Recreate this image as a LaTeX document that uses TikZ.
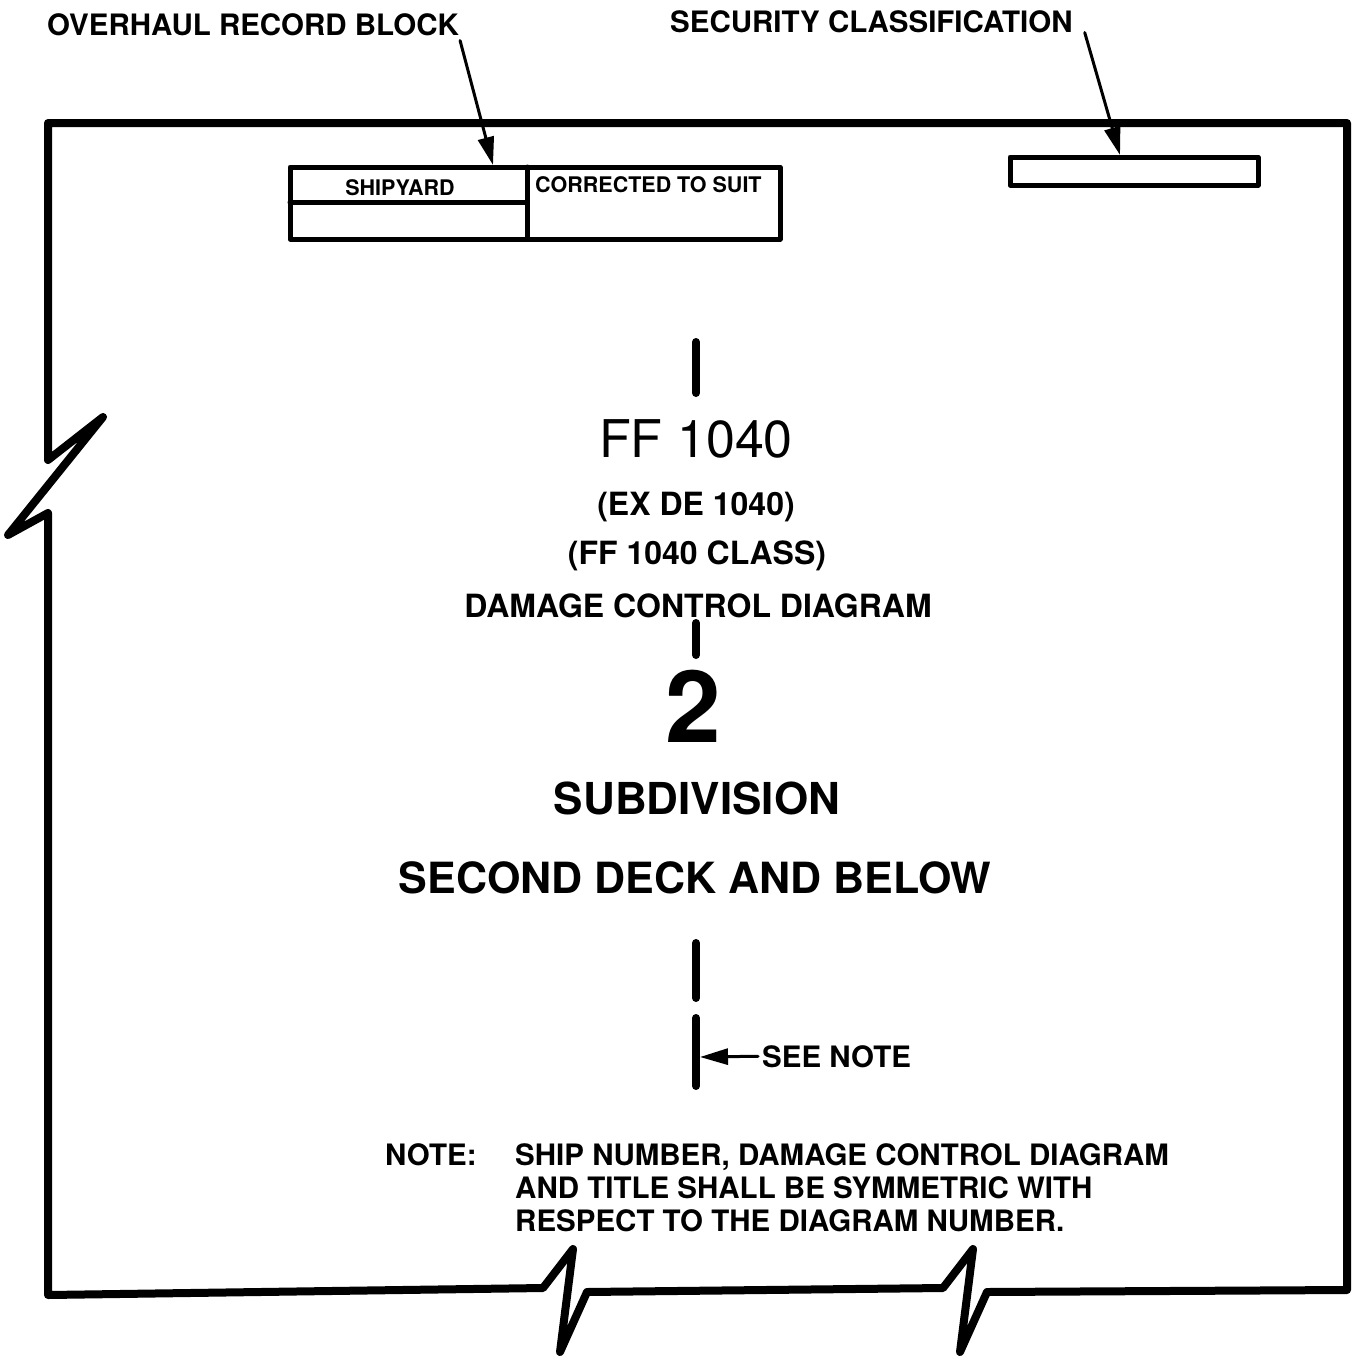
\documentclass[tikz,border=0pt]{standalone}
\usepackage{fontspec}
\setmainfont{TeX Gyre Heros}
\usetikzlibrary{arrows.meta}

\tikzset{
  lbl/.style={inner sep=0pt,font=\bfseries\fontsize{29.5}{33}\selectfont},
  cell/.style={inner sep=0pt,font=\bfseries\fontsize{21.5}{24}\selectfont},
  arr/.style={line width=3pt,-{Triangle[length=28pt,width=16pt]}},
  tick/.style={line width=8pt,line cap=round}
}

\begin{document}
\begin{tikzpicture}[x=1pt,y=-1pt,line join=round,line cap=round]
\useasboundingbox (0,0) rectangle (1356,1368);
% sheet outline with break marks
\draw[line width=8pt] (48,123) -- (1347,123) -- (1347,1290) -- (987,1292)
  -- (960,1352) -- (973,1249) -- (943,1288) -- (587,1292) -- (560,1352)
  -- (573,1249) -- (543,1288) -- (48,1295) -- (48,513) -- (8,535)
  -- (103,417) -- (48,460) -- cycle;
% overhaul record block
\draw[line width=5pt] (290,167) rectangle (780,239);
\draw[line width=5pt] (527,167) -- (527,239) (290,202) -- (527,202);
\node[cell,anchor=base] (yard) at (400,195) {SHIPYARD};
\node[cell,anchor=base west] (suit) at (535,192) {CORRECTED TO SUIT};
% security classification box
\draw[line width=5pt] (1010,157) rectangle (1258,185);
\coordinate (blocktip) at (493,165);
\coordinate (sectip) at (1120,155);
\node[lbl,anchor=base west] (ovh) at (47,35) {OVERHAUL RECORD BLOCK};
\node[lbl,anchor=base west] (sec) at (670,32) {SECURITY CLASSIFICATION};
\draw[arr] ([shift={(1,5)}]ovh.south east) -- (blocktip);
\draw[arr] ([shift={(12,0)}]sec.south east) -- (sectip);
% title
\foreach \a/\b in {342/393,623/655,943/998,1018/1086}
  \draw[tick] (696,\a) -- (696,\b);
\node[inner sep=0pt,font=\fontsize{52}{60}\selectfont,anchor=base] (ship) at (696,457) {FF 1040};
\node[lbl,font=\bfseries\fontsize{32}{36}\selectfont,anchor=base] (ex) at (696,515) {(EX DE 1040)};
\node[lbl,font=\bfseries\fontsize{32}{36}\selectfont,anchor=base] (cls) at (697,564) {(FF 1040 CLASS)};
\node[lbl,font=\bfseries\fontsize{32}{36}\selectfont,anchor=base] (dcd) at (698,617) {DAMAGE CONTROL DIAGRAM};
\node[lbl,font=\bfseries\fontsize{100}{110}\selectfont,anchor=base] (num) at (693,742) {2};
\node[lbl,font=\bfseries\fontsize{44}{50}\selectfont,anchor=base] (sub) at (697,814) {SUBDIVISION};
\node[lbl,font=\bfseries\fontsize{43}{50}\selectfont,anchor=base] (deck) at (695,893) {SECOND DECK AND BELOW};
% see note
\coordinate (nbar) at (700,1057);
\node[lbl,anchor=base west] (see) at (762,1067) {SEE NOTE};
\draw[arr] ([xshift=-4pt]see.west) -- (nbar);
\node[lbl,anchor=base west] (notehd) at (385,1165) {NOTE:};
\node[lbl,anchor=north west,align=left] (notetxt) at (515,1143.5)
  {SHIP NUMBER, DAMAGE CONTROL DIAGRAM\\AND TITLE SHALL BE SYMMETRIC WITH\\RESPECT TO THE DIAGRAM NUMBER.};
\end{tikzpicture}
\end{document}
